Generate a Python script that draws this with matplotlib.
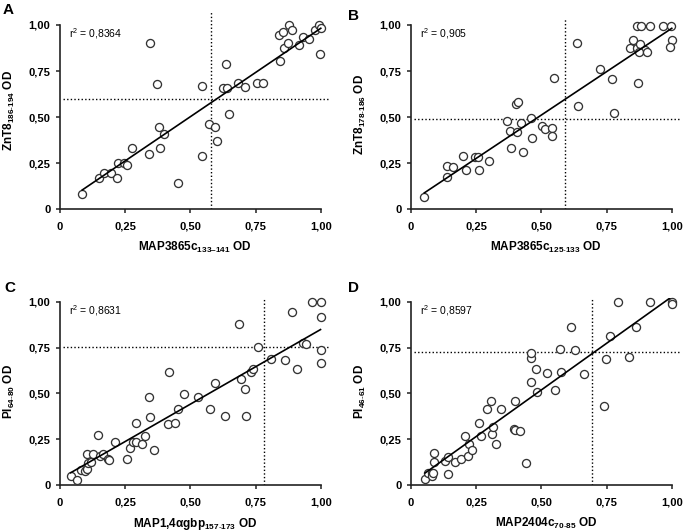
import matplotlib.pyplot as plt
import numpy as np

plt.rcParams['font.family'] = ['Liberation Sans', 'DejaVu Sans']
plt.rcParams['mathtext.fontset'] = 'custom'
plt.rcParams['mathtext.rm'] = 'Liberation Sans'
plt.rcParams['mathtext.bf'] = 'Liberation Sans:bold'
plt.rcParams['mathtext.it'] = 'Liberation Sans:italic'

# Panel A: MAP3865c133-141 vs ZnT8186-194
a_x = [0.085, 0.151, 0.170, 0.195, 0.217, 0.221, 0.246, 0.257, 0.275, 0.342,
       0.346, 0.372, 0.379, 0.383, 0.398, 0.452, 0.543, 0.543, 0.571, 0.594,
       0.602, 0.626, 0.636, 0.642, 0.649, 0.683, 0.709, 0.757, 0.780, 0.843,
       0.840, 0.854, 0.858, 0.875, 0.879, 0.890, 0.916, 0.932, 0.954, 0.977,
       0.994, 1.000, 0.996]
a_y = [0.083, 0.172, 0.195, 0.195, 0.172, 0.250, 0.250, 0.240, 0.331, 0.302,
       0.901, 0.682, 0.448, 0.335, 0.407, 0.145, 0.667, 0.291, 0.461, 0.448,
       0.369, 0.656, 0.787, 0.656, 0.519, 0.687, 0.662, 0.687, 0.687, 0.806,
       0.948, 0.964, 0.873, 0.901, 1.000, 0.974, 0.891, 0.937, 0.924, 0.973,
       1.000, 0.985, 0.841]

# Panel B: MAP3865c125-133 vs ZnT8178-186
b_x = [0.051, 0.137, 0.139, 0.162, 0.201, 0.210, 0.246, 0.256, 0.262, 0.300,
       0.367, 0.380, 0.384, 0.403, 0.412, 0.405, 0.421, 0.428, 0.460, 0.463,
       0.501, 0.512, 0.542, 0.542, 0.550, 0.636, 0.641, 0.725, 0.770, 0.780,
       0.850, 0.840, 0.866, 0.878, 0.898, 0.875, 0.872, 0.905, 0.866, 0.881,
       0.917, 0.968, 0.997, 1.000, 0.993]
b_y = [0.069, 0.177, 0.237, 0.231, 0.291, 0.213, 0.286, 0.286, 0.213, 0.262,
       0.481, 0.427, 0.335, 0.570, 0.580, 0.418, 0.470, 0.309, 0.497, 0.385,
       0.454, 0.434, 0.439, 0.398, 0.711, 0.901, 0.561, 0.759, 0.709, 0.524,
       0.919, 0.874, 0.874, 0.895, 0.864, 0.855, 0.684, 0.855, 0.996, 0.996,
       0.996, 0.996, 0.996, 0.919, 0.879]

# Panel C: MAP1,4agbp157-173 vs PI64-80
c_x = [0.041, 0.064, 0.080, 0.096, 0.102, 0.105, 0.109, 0.119, 0.128, 0.144,
       0.153, 0.163, 0.185, 0.188, 0.211, 0.255, 0.268, 0.281, 0.290, 0.293,
       0.313, 0.326, 0.340, 0.345, 0.361, 0.415, 0.419, 0.441, 0.453, 0.476,
       0.530, 0.575, 0.596, 0.632, 0.687, 0.696, 0.709, 0.713, 0.734, 0.741,
       0.760, 0.811, 0.862, 0.891, 0.907, 0.932, 0.945, 0.968, 0.999, 0.999,
       0.999, 0.999]
c_y = [0.051, 0.029, 0.083, 0.078, 0.169, 0.091, 0.123, 0.127, 0.169, 0.274,
       0.160, 0.169, 0.145, 0.136, 0.236, 0.142, 0.201, 0.236, 0.341, 0.236,
       0.223, 0.269, 0.480, 0.374, 0.191, 0.334, 0.615, 0.341, 0.416, 0.497,
       0.483, 0.416, 0.555, 0.379, 0.877, 0.577, 0.524, 0.377, 0.619, 0.632,
       0.755, 0.688, 0.682, 0.946, 0.633, 0.773, 0.770, 1.000, 1.000, 0.918,
       0.737, 0.664]

# Panel D: MAP2404c70-85 vs PI46-61
d_x = [0.054, 0.066, 0.079, 0.082, 0.088, 0.089, 0.085, 0.132, 0.140, 0.143,
       0.168, 0.191, 0.206, 0.217, 0.223, 0.234, 0.261, 0.270, 0.290, 0.306,
       0.310, 0.315, 0.327, 0.344, 0.394, 0.397, 0.397, 0.419, 0.442, 0.461,
       0.461, 0.461, 0.480, 0.483, 0.522, 0.554, 0.576, 0.572, 0.614, 0.630,
       0.665, 0.741, 0.748, 0.764, 0.792, 0.837, 0.862, 0.916, 1.000, 1.000]
d_y = [0.036, 0.069, 0.069, 0.051, 0.178, 0.127, 0.065, 0.132, 0.154, 0.064,
       0.127, 0.142, 0.269, 0.160, 0.227, 0.191, 0.338, 0.269, 0.414, 0.459,
       0.278, 0.319, 0.223, 0.417, 0.305, 0.459, 0.301, 0.296, 0.123, 0.564,
       0.692, 0.719, 0.633, 0.510, 0.613, 0.519, 0.619, 0.741, 0.864, 0.737,
       0.606, 0.432, 0.688, 0.815, 1.000, 0.700, 0.864, 1.000, 1.000, 0.990]

# regression lines
slopes = [0.959, 0.941, 0.814, 1.015]
intercepts = [0.023, 0.041, 0.035, 0.012]
r2_labels = ['0,8364', '0,905', '0,8631', '0,8597']
cutoff_x = [0.58, 0.59, 0.783, 0.695]
cutoff_y = [0.60, 0.49, 0.751, 0.726]

x_labels = ['MAP3865c$_{\\mathbf{133–141}}$ OD',
            'MAP3865c$_{\\mathbf{125}\\text{-}\\mathbf{133}}$ OD',
            'MAP1,4αgbp$_{\\mathbf{157}\\text{-}\\mathbf{173}}$ OD',
            'MAP2404c$_{\\mathbf{70}\\text{-}\\mathbf{85}}$ OD']
y_labels = ['ZnT8$_{\\mathbf{186}\\text{-}\\mathbf{194}}$ OD',
            'ZnT8$_{\\mathbf{178}\\text{-}\\mathbf{186}}$ OD',
            'PI$_{\\mathbf{64}\\text{-}\\mathbf{80}}$ OD',
            'PI$_{\\mathbf{46}\\text{-}\\mathbf{61}}$ OD']
panel_letters = ['A', 'B', 'C', 'D']
tick_values = [0, 0.25, 0.5, 0.75, 1.0]
tick_labels = ['0', '0,25', '0,50', '0,75', '1,00']

xs = [a_x, b_x, c_x, d_x]
ys = [a_y, b_y, c_y, d_y]

fig = plt.figure(figsize=(6.85, 5.32), dpi=100)

# axes boxes (left, bottom, width, height) and y top limits
boxes = [[0.0876, 0.6066, 0.394, 0.3707],
         [0.600, 0.6066, 0.394, 0.3568],
         [0.0876, 0.0878, 0.394, 0.3520],
         [0.600, 0.0878, 0.394, 0.3520]]
y_tops = [1.07, 1.03, 1.02, 1.02]
letter_pos = [(0.004, 0.995), (0.508, 0.983), (0.006, 0.472), (0.508, 0.472)]

for i in range(4):
    ax = fig.add_axes(boxes[i])
    ax.set_xlim(0, 1.035)
    ax.set_ylim(0, y_tops[i])

    x = np.array(xs[i])
    y = np.array(ys[i])
    ax.plot(x, y, 'o', ms=5.8, mfc='white', mec='#333333', mew=0.95,
            clip_on=False, zorder=3)

    lx = np.array([x.min(), x.max()])
    ax.plot(lx, slopes[i] * lx + intercepts[i], color='black', lw=1.2, zorder=4)

    ax.axhline(cutoff_y[i], xmin=0.012, xmax=1, color='black', lw=1.0,
               linestyle=(0, (1, 1.6)), zorder=2)
    ax.axvline(cutoff_x[i], color='black', lw=1.0,
               linestyle=(0, (1, 1.6)), zorder=2)

    ax.text(0.035, 0.93, 'r$^2$ = ' + r2_labels[i], fontsize=7.5, va='baseline')

    for s in ['top', 'right']:
        ax.spines[s].set_visible(False)
    for s in ['left', 'bottom']:
        ax.spines[s].set_linewidth(1.2)
        ax.spines[s].set_color('#222222')
    ax.spines['bottom'].set_bounds(0, 1)
    ax.spines['left'].set_bounds(0, 1)

    ax.set_xticks(tick_values)
    ax.set_xticklabels(tick_labels)
    ax.set_yticks(tick_values)
    ax.set_yticklabels(tick_labels)
    ax.tick_params(direction='out', length=3, width=1.1, labelsize=8,
                   color='#222222')
    ax.tick_params(axis='x', pad=6)
    ax.tick_params(axis='y', pad=4)
    for lab in ax.get_xticklabels() + ax.get_yticklabels():
        lab.set_fontweight('bold')

    ax.set_xlabel(x_labels[i], fontsize=8.5, fontweight='bold', labelpad=6)
    ax.set_ylabel(y_labels[i], fontsize=8.5, fontweight='bold', labelpad=8)

    fig.text(letter_pos[i][0], letter_pos[i][1], panel_letters[i],
             fontsize=11, fontweight='bold', va='top', ha='left')

fig.savefig('out.png', dpi=100)
